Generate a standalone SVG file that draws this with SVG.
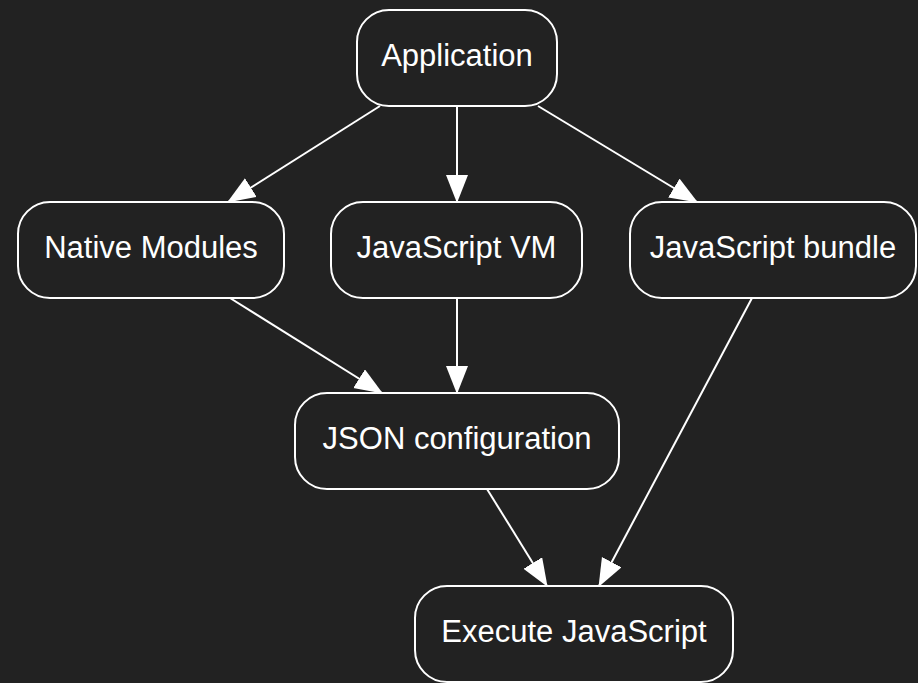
<svg xmlns="http://www.w3.org/2000/svg" width="918" height="683" viewBox="0 0 918 683">
<defs>
<style>
.node rect{fill:#222222;stroke:#ffffff;stroke-width:2}
.node text{fill:#ffffff;font-family:"Liberation Sans",Arial,sans-serif;font-size:31px;text-anchor:middle}
.edge{stroke:#ffffff;stroke-width:2;fill:none;marker-end:url(#arr)}
</style>
<marker id="arr" markerUnits="userSpaceOnUse" markerWidth="28" markerHeight="24" refX="27" refY="11" orient="auto">
<path d="M0,0 L28,11 L0,22 z" fill="#ffffff"/>
</marker>
</defs>
<rect width="918" height="683" fill="#222222"/>
<g id="connectors">
<line class="edge" x1="380" y1="106" x2="228" y2="202"/>
<line class="edge" x1="457" y1="106" x2="457" y2="202"/>
<line class="edge" x1="538" y1="106" x2="697" y2="202"/>
<line class="edge" x1="230" y1="298" x2="382" y2="393"/>
<line class="edge" x1="457" y1="298" x2="457" y2="393"/>
<line class="edge" x1="487" y1="489" x2="547" y2="586"/>
<line class="edge" x1="752" y1="298" x2="599" y2="586"/>
</g>
<g id="application" class="node"><rect x="357" y="10" width="200" height="96" rx="32"/><text x="457" y="66">Application</text></g>
<g id="native-modules" class="node"><rect x="18" y="202" width="266" height="96" rx="32"/><text x="151" y="258">Native Modules</text></g>
<g id="javascript-vm" class="node"><rect x="331" y="202" width="251" height="96" rx="32"/><text x="456.5" y="258">JavaScript VM</text></g>
<g id="javascript-bundle" class="node"><rect x="630" y="202" width="286" height="96" rx="32"/><text x="773" y="258">JavaScript bundle</text></g>
<g id="json-configuration" class="node"><rect x="295" y="393" width="324" height="96" rx="32"/><text x="457" y="449">JSON configuration</text></g>
<g id="execute-javascript" class="node"><rect x="415" y="586" width="318" height="96" rx="32"/><text x="574" y="642">Execute JavaScript</text></g>
</svg>
